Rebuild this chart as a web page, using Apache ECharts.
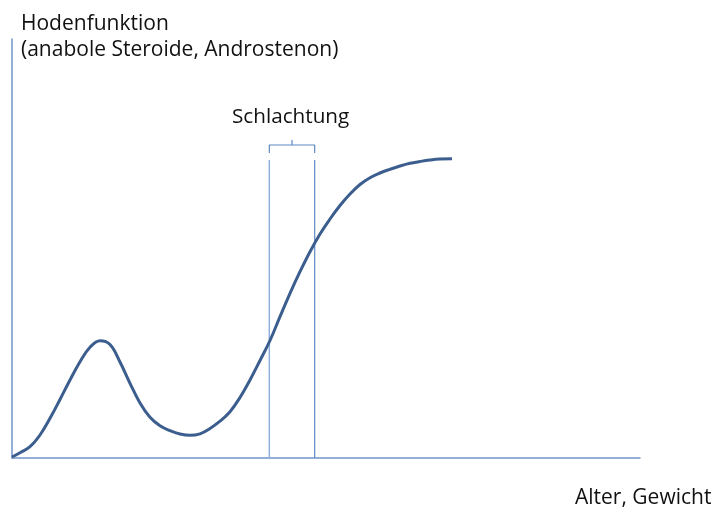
<!DOCTYPE html>
<html><head><meta charset="utf-8">
<script src="https://cdn.jsdelivr.net/npm/echarts@6/dist/echarts.min.js"></script>
<style>html,body{margin:0;padding:0;background:#fff}#c{width:715px;height:513px}</style>
</head><body><div id="c"></div>
<script>
// Curve (arbitrary units: age/weight vs. testicular function)
const curveX = [0, 8, 18, 28, 38, 48, 58, 68, 78, 88, 98, 108, 118, 128, 138, 148, 158, 168, 178, 188, 198, 208, 218, 228, 238, 248, 258, 268, 278, 288, 298, 308, 318, 328, 338, 348, 358, 368, 378, 388, 398, 408, 418, 428, 440];
const curveY = [1, 5.3, 11.3, 23, 39.7, 58.5, 78, 96.3, 110.8, 117.3, 113.5, 96, 74.7, 55, 40.7, 32.2, 27.3, 24, 22.7, 24.2, 29.5, 36.8, 46.3, 60.5, 78, 97.5, 117.5, 141.3, 164.7, 186.3, 206.3, 224, 239, 252.5, 264, 273.5, 280.3, 285, 288.7, 292, 294.7, 296.5, 298, 299, 299.3];
// Slaughter window
const slaughterStart = 257.3;
const slaughterEnd = 302.7;
const windowTop = 298;
const braceBottom = 305;
const braceTop = 313;
const braceTip = 318;
const xMax = 628, yMax = 419;

const curve = curveX.map((x, i) => [x, curveY[i]]);
const mid = (slaughterStart + slaughterEnd) / 2;
const brace = [[slaughterStart, braceBottom], [slaughterStart, braceTop], [mid, braceTop], [mid, braceTip], [mid, braceTop], [slaughterEnd, braceTop], [slaughterEnd, braceBottom]];

const chart = echarts.init(document.getElementById('c'), null, {renderer: 'canvas'});
const font = '"Open Sans", sans-serif';
chart.setOption({
  animation: false,
  grid: {left: 12, right: 75, top: 39, bottom: 55},
  xAxis: {type: 'value', min: 0, max: xMax, axisLine: {show: true, lineStyle: {color: '#6f95c9', width: 1.5}}, axisTick: {show: false}, axisLabel: {show: false}, splitLine: {show: false}},
  yAxis: {type: 'value', min: 0, max: yMax, axisLine: {show: true, lineStyle: {color: '#6f95c9', width: 1.5}}, axisTick: {show: false}, axisLabel: {show: false}, splitLine: {show: false}},
  series: [
    {type: 'line', data: [[slaughterStart, 0], [slaughterStart, windowTop]], symbol: 'none', lineStyle: {color: '#8fb0da', width: 1.5}, z: 1},
    {type: 'line', data: [[slaughterEnd, 0], [slaughterEnd, windowTop]], symbol: 'none', lineStyle: {color: '#5b89c4', width: 1.2}, z: 1},
    {type: 'line', data: brace, symbol: 'none', lineStyle: {color: '#5b89c4', width: 1.2}, z: 1},
    {type: 'line', data: curve, smooth: 0.4, symbol: 'none', lineStyle: {color: '#3b5e8e', width: 3}, z: 3}
  ],
  graphic: [
    {type: 'text', left: 21, top: 11, style: {text: 'Hodenfunktion\n(anabole Steroide, Androstenon)', font: '21px ' + font, fill: '#111', lineHeight: 26}},
    {type: 'text', left: 575, top: 488, style: {text: 'Alter, Gewicht', font: '21px ' + font, fill: '#111'}},
    {type: 'text', left: 232, top: 107, style: {text: 'Schlachtung', font: '20.7px ' + font, fill: '#111'}}
  ]
});
</script></body></html>
